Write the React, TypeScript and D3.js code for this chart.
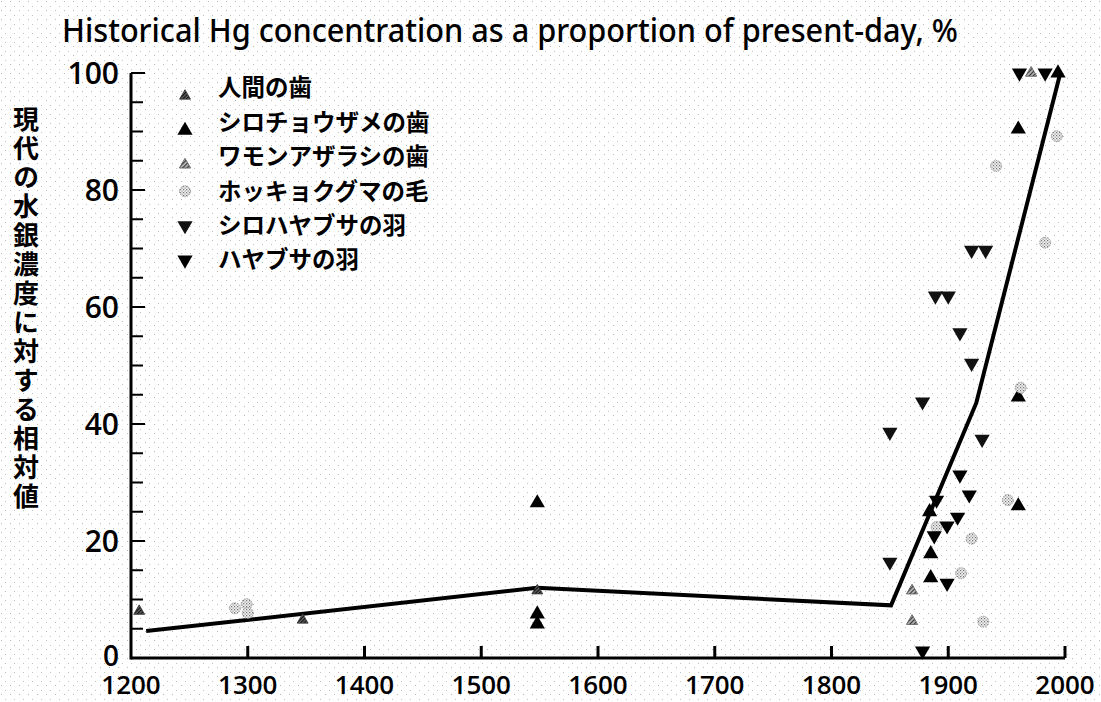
import * as d3 from 'd3'

// [year, % of present-day]
const humanTeeth: [number, number][] = [[1207, 8], [1347, 6.5], [1548, 11.5]]
const sturgeonTeeth: [number, number][] = [
  [1548, 26.5], [1548, 7.5], [1548, 5.8], [1884, 25], [1885, 17.8], [1885, 13.7],
  [1960, 90.4], [1960, 44.6], [1960, 26], [1994, 100],
]
const sealTeeth: [number, number][] = [[1869, 11.5], [1869, 6.3], [1971, 100]]
const bearHair: [number, number][] = [
  [1289, 8.5], [1299, 9.2], [1300, 7.7], [1890, 22.4], [1911, 14.5], [1920, 20.4],
  [1930, 6.2], [1941, 84.1], [1951, 27], [1962, 46.2], [1983, 71], [1993, 89.2],
]
const gyrfalconFeathers: [number, number][] = [
  [1850, 38.6], [1850, 16.4], [1878, 43.8], [1889, 61.9], [1900, 61.9], [1920, 69.7],
  [1932, 69.7], [1910, 55.6], [1920, 50.4], [1929, 37.4],
]
const peregrineFeathers: [number, number][] = [
  [1890, 27], [1899, 22.6], [1888, 20.9], [1899, 12.8], [1878, 1.2], [1908, 24.1],
  [1910, 31.3], [1918, 27.9], [1961, 100], [1983, 100],
]
const trend: [number, number][] = [[1213, 4.6], [1548, 12], [1851, 9], [1924, 43.6], [1996, 100]]

const xTicks = [1200, 1300, 1400, 1500, 1600, 1700, 1800, 1900, 2000]
const yTicks = [0, 20, 40, 60, 80, 100]
const yMinor = d3.range(0, 101, 5)

const title = 'Historical Hg concentration as a proportion of present-day, %'
const yTitle = '現代の水銀濃度に対する相対値'

type Kind = 'human' | 'sturgeon' | 'seal' | 'bear' | 'gyr' | 'pere'
const series: { kind: Kind; label: string; data: [number, number][] }[] = [
  { kind: 'human', label: '人間の歯', data: humanTeeth },
  { kind: 'sturgeon', label: 'シロチョウザメの歯', data: sturgeonTeeth },
  { kind: 'seal', label: 'ワモンアザラシの歯', data: sealTeeth },
  { kind: 'bear', label: 'ホッキョクグマの毛', data: bearHair },
  { kind: 'gyr', label: 'シロハヤブサの羽', data: gyrfalconFeathers },
  { kind: 'pere', label: 'ハヤブサの羽', data: peregrineFeathers },
]

const W = 1101
const H = 702
const x = d3.scaleLinear().domain([1200, 2000]).range([131, 1065])
const y = d3.scaleLinear().domain([0, 100]).range([658, 73])

const numFont = '"Open Sans", "Noto Sans", sans-serif'
const jpFont = '"Noto Sans CJK JP", "Noto Sans CJK SC", sans-serif'

function Marker({ kind, cx, cy }: { kind: Kind; cx: number; cy: number }) {
  if (kind === 'bear') {
    return <circle cx={cx} cy={cy} r={5.5} fill="url(#stipple)" stroke="#999" strokeWidth={1} strokeDasharray="1.5 1" />
  }
  const styles: Record<string, { size: number; fill: string; rot: number }> = {
    human: { size: 52, fill: 'url(#hatchDark)', rot: 0 },
    sturgeon: { size: 100, fill: '#000', rot: 0 },
    seal: { size: 55, fill: 'url(#hatchLight)', rot: 0 },
    gyr: { size: 100, fill: '#111', rot: 180 },
    pere: { size: 100, fill: '#000', rot: 180 },
  }
  const s = styles[kind]
  const d = d3.symbol().type(d3.symbolTriangle).size(s.size)() || ''
  return (
    <g transform={`translate(${cx},${cy}) rotate(${s.rot})`}>
      <path d={d} fill={s.fill} stroke={kind === 'seal' ? '#555' : kind === 'human' ? '#333' : 'none'} strokeWidth={0.8} />
    </g>
  )
}

export default function App() {
  const line = d3.line<[number, number]>().x((d) => x(d[0])).y((d) => y(d[1]))
  const legendY = d3.scaleLinear().domain([0, 5]).range([88, 260])

  return (
    <div style={{ position: 'absolute', left: 0, top: 0 }}>
      <svg width={W} height={H} style={{ display: 'block', background: '#fff' }}>
        <defs>
          <pattern id="dots" width={9} height={9} patternUnits="userSpaceOnUse">
            <rect x={1} y={1} width={1} height={1} fill="#8a8a8a" />
            <rect x={5} y={6} width={1} height={1} fill="#9a9a9a" />
          </pattern>
          <pattern id="stipple" width={3} height={3} patternUnits="userSpaceOnUse">
            <rect width={3} height={3} fill="#eee" />
            <rect x={0} y={0} width={1.2} height={1.2} fill="#777" />
            <rect x={1.5} y={1.5} width={1.2} height={1.2} fill="#999" />
          </pattern>
          <pattern id="hatchDark" width={2.5} height={2.5} patternUnits="userSpaceOnUse" patternTransform="rotate(45)">
            <rect width={2.5} height={2.5} fill="#666" />
            <rect width={1.2} height={2.5} fill="#111" />
          </pattern>
          <pattern id="hatchLight" width={3} height={3} patternUnits="userSpaceOnUse" patternTransform="rotate(45)">
            <rect width={3} height={3} fill="#bbb" />
            <rect width={1.2} height={3} fill="#333" />
          </pattern>
        </defs>

        <rect width={W} height={H} fill="url(#dots)" opacity={0.6} />

        <text x={62} y={42} fontFamily='"Noto Sans", sans-serif' fontWeight={500} fontSize={33} textLength={896} lengthAdjust="spacingAndGlyphs" fill="#000">
          {title}
        </text>

        {/* vertical y title */}
        <text
          x={26}
          y={106}
          fontFamily={jpFont}
          fontWeight={700}
          fontSize={26}
          fill="#000"
          style={{ writingMode: 'vertical-rl', textOrientation: 'upright', letterSpacing: '3px' }}
        >
          {yTitle}
        </text>

        {/* axes */}
        <line x1={x(1200)} x2={x(2000)} y1={y(0)} y2={y(0)} stroke="#000" strokeWidth={3} />
        <line x1={x(1200)} x2={x(1200)} y1={y(0) + 1.5} y2={y(100)} stroke="#000" strokeWidth={3} />
        {yMinor.map((t) => (
          <line key={t} x1={x(1200)} x2={x(1200) + (t % 20 === 0 ? 14 : 12)} y1={y(t)} y2={y(t)} stroke="#000" strokeWidth={2} />
        ))}
        {yTicks.map((t) => (
          <text key={t} x={119} y={y(t) - (t === 0 ? 2 : 0)} dy="0.36em" textAnchor="end" fontFamily={numFont} fontWeight={600} fontSize={t === 0 ? 28 : 30} fill="#000">
            {t}
          </text>
        ))}
        {xTicks.map((t) => (
          <g key={t}>
            {t > 1200 && <line x1={x(t)} x2={x(t)} y1={y(0)} y2={y(0) - 12} stroke="#000" strokeWidth={3} />}
            <text x={x(t)} y={694} textAnchor="middle" fontFamily={numFont} fontWeight={600} fontSize={26} fill="#000">
              {t}
            </text>
          </g>
        ))}

        {/* trend line */}
        <path d={line(trend) || ''} fill="none" stroke="#000" strokeWidth={4} strokeLinejoin="miter" />

        {/* data points */}
        {series.map((s) =>
          s.data.map((d, i) => <Marker key={`${s.kind}-${i}`} kind={s.kind} cx={x(d[0])} cy={y(d[1])} />)
        )}

        {/* legend */}
        {series.map((s, i) => (
          <g key={s.kind}>
            <Marker kind={s.kind} cx={185} cy={legendY(i) + (i < 3 ? 8 : 0)} />
            <text x={218} y={legendY(i)} dy="0.36em" fontFamily={jpFont} fontWeight={700} fontSize={23.5} fill="#000">
              {s.label}
            </text>
          </g>
        ))}
      </svg>
    </div>
  )
}
